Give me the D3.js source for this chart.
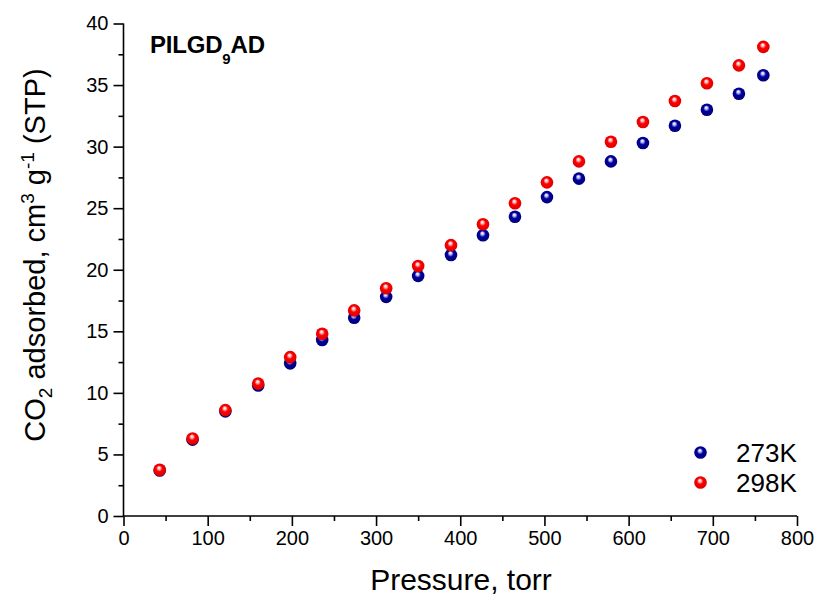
<!DOCTYPE html>
<html>
<head>
<meta charset="utf-8">
<script src="https://cdn.jsdelivr.net/npm/d3@7"></script>
<style>
  html, body { margin: 0; padding: 0; background: #fff; }
  svg { display: block; font-family: "Liberation Sans", Arial, sans-serif; }
</style>
</head>
<body>
<svg id="chart" width="820" height="603"></svg>
<script>
// ---- data ----
const pressure = [43, 82, 121, 160, 198, 236, 274, 312, 350, 389, 427, 465, 503, 541, 579, 617, 655, 693, 731, 760];
const ads273 = [3.7, 6.2, 8.5, 10.6, 12.4, 14.3, 16.1, 17.8, 19.5, 21.2, 22.8, 24.3, 25.9, 27.4, 28.8, 30.3, 31.7, 33.0, 34.3, 35.8];
const ads298 = [3.75, 6.3, 8.6, 10.75, 12.9, 14.8, 16.7, 18.5, 20.3, 22.0, 23.7, 25.4, 27.1, 28.8, 30.4, 32.0, 33.7, 35.15, 36.6, 38.1];
const seriesNames = ["273K", "298K"];
const xTicks = [0, 100, 200, 300, 400, 500, 600, 700, 800];
const xMinor = [50, 150, 250, 350, 450, 550, 650, 750];
const yTicks = [0, 5, 10, 15, 20, 25, 30, 35, 40];
const yMinor = [2.5, 7.5, 12.5, 17.5, 22.5, 27.5, 32.5, 37.5];

const svg = d3.select("#chart");
const x = d3.scaleLinear().domain([0, 800]).range([123.5, 797]);
const y = d3.scaleLinear().domain([0, 40]).range([516, 23.5]);

// gradients for shaded balls
const defs = svg.append("defs");
function ballGrad(id, hi, mid, edge) {
  const g = defs.append("radialGradient").attr("id", id)
    .attr("cx", "50%").attr("cy", "50%").attr("r", "55%")
    .attr("fx", "44%").attr("fy", "32%");
  g.append("stop").attr("offset", "0%").attr("stop-color", "#ffffff");
  g.append("stop").attr("offset", "18%").attr("stop-color", hi);
  g.append("stop").attr("offset", "45%").attr("stop-color", mid);
  g.append("stop").attr("offset", "100%").attr("stop-color", edge);
}
ballGrad("gBlue", "#c8c8ff", "#00009c", "#000075");
ballGrad("gRed", "#ffc8c8", "#ff0000", "#d80000");
const fills = ["url(#gBlue)", "url(#gRed)"];

// axes
const axisStyle = g => {
  g.selectAll("path").attr("stroke", "#000").attr("stroke-width", 1.6);
  g.selectAll("line").attr("stroke", "#000").attr("stroke-width", 1.6);
  g.selectAll("text").attr("font-size", 20).attr("fill", "#000")
    .attr("font-family", "'Liberation Sans', Arial, sans-serif");
};
const xAxis = svg.append("g").attr("transform", `translate(0,${y(0)})`)
  .call(d3.axisBottom(x).tickValues(xTicks).tickSize(10).tickPadding(5).tickFormat(d3.format("d")))
  .call(axisStyle);
xAxis.select(".domain").attr("d", `M${x(0)},0H${x(800)}`);
const xAxisMinor = svg.append("g").attr("transform", `translate(0,${y(0)})`)
  .call(d3.axisBottom(x).tickValues(xMinor).tickSize(5).tickFormat(""))
  .call(axisStyle);
xAxisMinor.select(".domain").remove();

const yAxis = svg.append("g").attr("transform", `translate(${x(0)},0)`)
  .call(d3.axisLeft(y).tickValues(yTicks).tickSize(10).tickPadding(5).tickFormat(d3.format("d")))
  .call(axisStyle);
yAxis.select(".domain").attr("d", `M0,${y(0)}V${y(40)}`);
const yAxisMinor = svg.append("g").attr("transform", `translate(${x(0)},0)`)
  .call(d3.axisLeft(y).tickValues(yMinor).tickSize(5).tickFormat(""))
  .call(axisStyle);
yAxisMinor.select(".domain").remove();

// data points
[ads273, ads298].forEach((vals, si) => {
  svg.append("g").selectAll("circle").data(pressure.map((p, i) => [p, vals[i]]))
    .enter().append("circle")
    .attr("cx", d => x(d[0])).attr("cy", d => y(d[1]))
    .attr("r", 6.3).attr("fill", fills[si]);
});

// axis titles
svg.append("text").attr("x", 461).attr("y", 590).attr("text-anchor", "middle")
  .attr("font-size", 30).text("Pressure, torr");

const yl = svg.append("text").attr("transform", "translate(45,255) rotate(-90)")
  .attr("text-anchor", "middle").attr("font-size", 29);
yl.append("tspan").text("CO");
yl.append("tspan").attr("font-size", 19).attr("dy", 7).text("2");
yl.append("tspan").attr("dy", -7).text(" adsorbed, cm");
yl.append("tspan").attr("font-size", 19).attr("dy", -11).text("3");
yl.append("tspan").attr("dy", 11).text(" g");
yl.append("tspan").attr("font-size", 19).attr("dy", -11).text("-1");
yl.append("tspan").attr("dy", 11).text(" (STP)");

// sample label
const t = svg.append("text").attr("x", 150).attr("y", 53).attr("font-size", 24)
  .attr("font-weight", "bold").attr("letter-spacing", -0.2);
t.append("tspan").text("PILGD");
t.append("tspan").attr("font-size", 15).attr("dy", 11).text("9");
t.append("tspan").attr("dy", -11).text("AD");

// legend
const legY = [452.5, 482.5];
seriesNames.forEach((name, i) => {
  svg.append("circle").attr("cx", 700.5).attr("cy", legY[i]).attr("r", 6.3).attr("fill", fills[i]);
  svg.append("text").attr("x", 736).attr("y", legY[i] + 9.5).attr("font-size", 26).text(name);
});
</script>
</body>
</html>
